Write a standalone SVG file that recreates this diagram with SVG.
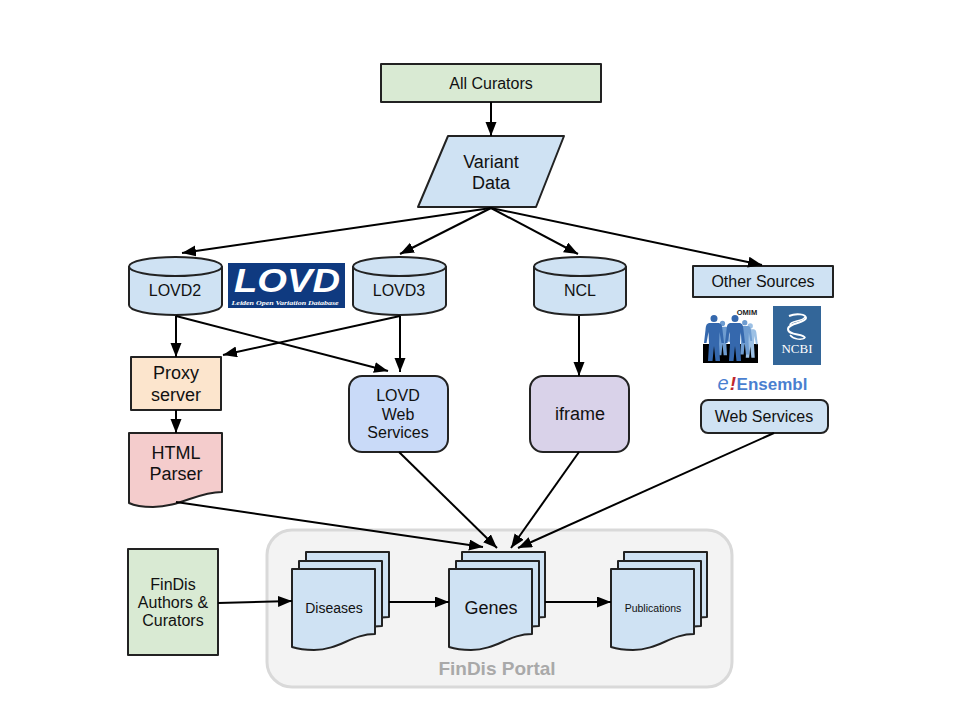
<svg xmlns="http://www.w3.org/2000/svg" width="960" height="720" viewBox="0 0 960 720">
<style>
text{font-family:"Liberation Sans",Arial,sans-serif;fill:#111;text-anchor:middle}
.s{stroke:#222;stroke-width:2;stroke-linejoin:round}
.b{fill:#cfe2f3}
.g{fill:#d9ead3}
.c{stroke:#000;stroke-width:2;fill:none;marker-end:url(#a)}
.t16{font-size:16px}.t18{font-size:18px}
</style>
<defs>
<marker id="a" markerUnits="userSpaceOnUse" markerWidth="16" markerHeight="12" refX="14" refY="5.500" orient="auto"><path d="M0 0L14 5.500L0 11Z" fill="#000"/></marker>
<path id="doc" d="M0 0H83V65C60 65 47 81 22 81C12 81 6 80 0 78Z"/>
<path id="person" d="M0 0a3.500 3.500 0 0 1 0 7a3.500 3.500 0 0 1 0-7ZM-5 8H5C8 9 8 11 8.500 15L10 28H7.500L5.500 17L5 29L6 46H1.500L0 31L-1.500 46H-6L-5 29L-5.500 17L-7.500 28H-10L-8.500 15C-8 11-8 9-5 8Z"/>
</defs>
<rect width="960" height="720" fill="#fff"/>
<g id="portal">
<rect x="267" y="530" width="465" height="157" rx="25" fill="#f3f3f3" stroke="#d9d9d9" stroke-width="3"/>
<text x="497" y="675" font-size="19" font-weight="bold" style="fill:#a9a9a9">FinDis Portal</text>
</g>
<g id="all-curators"><rect class="s g" x="381" y="64" width="220" height="38"/><text class="t16" x="491" y="89">All Curators</text></g>
<g id="variant-data"><path class="s b" d="M448 136H564L536 207H418Z"/><text class="t18" x="491" y="168">Variant</text><text class="t18" x="491" y="189">Data</text></g>
<g id="lovd2"><path class="s b" d="M129 267V305C129 311 150 315 175.500 315S222 311 222 305V267Z"/><ellipse class="s b" cx="175.500" cy="266.500" rx="46.500" ry="9.500"/><text class="t16" x="175" y="296">LOVD2</text></g>
<g id="lovd-logo"><rect x="228" y="263" width="117" height="45" fill="#0f3a80"/><text x="287" y="292" font-size="34" font-weight="bold" font-style="italic" textLength="106" lengthAdjust="spacingAndGlyphs" style="fill:#fff">LOVD</text><text x="285" y="305" font-size="6.500" font-weight="bold" font-style="italic" textLength="107" lengthAdjust="spacingAndGlyphs" style="font-family:'Liberation Serif',serif;fill:#fff">Leiden Open Variation Database</text></g>
<g id="lovd3"><path class="s b" d="M353 267V305C353 311 374 315 399.500 315S446 311 446 305V267Z"/><ellipse class="s b" cx="399.500" cy="266.500" rx="46.500" ry="9.500"/><text class="t16" x="399" y="296">LOVD3</text></g>
<g id="ncl"><path class="s b" d="M534 267V305C534 311 555 315 580 315S626 311 626 305V267Z"/><ellipse class="s b" cx="580" cy="266.500" rx="46" ry="9.500"/><text class="t16" x="580" y="296">NCL</text></g>
<g id="other-sources"><rect class="s b" x="693" y="266" width="140" height="31"/><text class="t16" x="763" y="287">Other Sources</text></g>
<g id="omim-logo">
<rect x="703" y="344" width="55" height="19" fill="#000"/>
<text x="747" y="315" font-size="7.500" font-weight="bold" style="fill:#222">OMIM</text>
<use href="#person" x="751" y="323" fill="#9cc0e4" transform="translate(187 81) scale(.75)"/>
<use href="#person" x="722" y="321" fill="#6e9cd0" transform="translate(181 80) scale(.75)"/>
<use href="#person" x="745" y="320" fill="#6e9cd0" transform="translate(186 80) scale(.75)"/>
<use href="#person" x="714" y="315" fill="#3568ad"/>
<use href="#person" x="735" y="315" fill="#3568ad"/>
</g>
<g id="ncbi-logo"><rect x="773" y="306" width="48" height="59" fill="#336699"/>
<path d="M789 316C796 313 806 314 806 318C806 323 788 323 788 329C788 336 804 333 805 338" fill="none" stroke="#fff" stroke-width="2"/>
<path d="M805 317C803 322 790 320 790 325M790 335C794 340 802 340 805 338" fill="none" stroke="#fff" stroke-width="1.500"/>
<text x="797" y="353" font-size="12" textLength="31" lengthAdjust="spacingAndGlyphs" style="font-family:'Liberation Serif',serif;fill:#fff">NCBI</text></g>
<g id="ensembl-logo"><text x="723" y="390" font-size="20" font-style="italic" style="fill:#4a7fd0">e</text><text x="733" y="390" font-size="19" font-style="italic" font-weight="bold" style="fill:#c0272d">!</text><text x="772" y="390" font-size="17" font-weight="bold" style="fill:#4a7fd0">Ensembl</text></g>
<g id="proxy-server"><rect class="s" x="131" y="357" width="90" height="53" fill="#fce5cd"/><text class="t18" x="176" y="379">Proxy</text><text class="t18" x="176" y="401">server</text></g>
<g id="html-parser"><path class="s" fill="#f4cccc" d="M129 433H222V492C197 492 180 507 153 507C143 507 135 506 129 503Z"/><text class="t18" x="176" y="459">HTML</text><text class="t18" x="176" y="480">Parser</text></g>
<g id="lovd-web-services"><rect class="s" x="349" y="376" width="99" height="76" rx="13" fill="#c9daf8"/><text class="t16" x="398" y="401">LOVD</text><text class="t16" x="398" y="420">Web</text><text class="t16" x="398" y="438">Services</text></g>
<g id="iframe"><rect class="s" x="530" y="376" width="99" height="76" rx="13" fill="#d9d2e9"/><text class="t18" x="580" y="420">iframe</text></g>
<g id="web-services"><rect class="s b" x="701" y="400" width="127" height="33" rx="7"/><text class="t16" x="764" y="422">Web Services</text></g>
<g id="authors"><rect class="s g" x="128" y="549" width="90" height="106"/><text class="t16" x="173" y="590">FinDis</text><text class="t16" x="173" y="608">Authors &amp;</text><text class="t16" x="173" y="626">Curators</text></g>
<g id="diseases"><use href="#doc" class="s b" x="306" y="552"/><use href="#doc" class="s b" x="299" y="561"/><use href="#doc" class="s b" x="292" y="569"/><text x="334" y="613" font-size="14">Diseases</text></g>
<g id="genes"><use href="#doc" class="s b" x="462" y="552"/><use href="#doc" class="s b" x="456" y="561"/><use href="#doc" class="s b" x="449" y="569"/><text x="491" y="614" font-size="18">Genes</text></g>
<g id="publications"><use href="#doc" class="s b" x="624" y="552"/><use href="#doc" class="s b" x="618" y="561"/><use href="#doc" class="s b" x="611" y="569"/><text x="653" y="612" font-size="10.500">Publications</text></g>
<g id="connectors">
<path class="c" d="M491 102V136"/>
<path class="c" d="M491 208L182 253"/>
<path class="c" d="M491 208L400 254"/>
<path class="c" d="M491 208L578 254"/>
<path class="c" d="M491 208L762 265"/>
<path class="c" d="M176 316V357"/>
<path class="c" d="M176 316L388 371"/>
<path class="c" d="M400 316L223 355"/>
<path class="c" d="M400 316V372"/>
<path class="c" d="M579 316V376"/>
<path class="c" d="M176 410V433"/>
<path class="c" d="M399 452L497 548"/>
<path class="c" d="M579 452L511 548"/>
<path class="c" d="M774 433L518 548"/>
<path class="c" d="M176 502L483 547"/>
<path class="c" d="M218 603L292 601"/>
<path class="c" d="M389 602H449"/>
<path class="c" d="M545 602H611"/>
</g>
</svg>
